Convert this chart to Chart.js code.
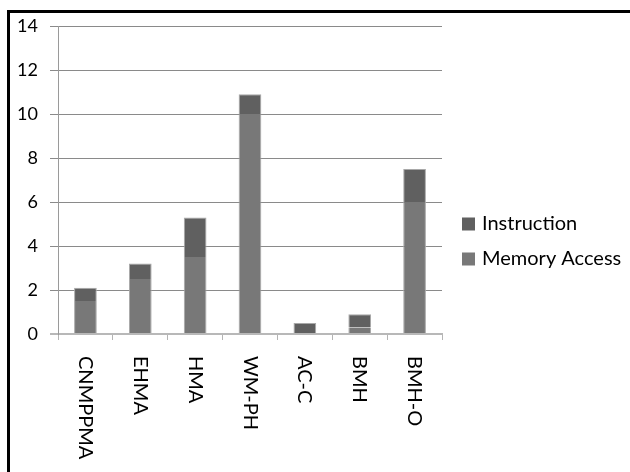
<!DOCTYPE html>
<html>
<head>
<meta charset="utf-8">
<script src="https://cdn.jsdelivr.net/npm/chart.js@4/dist/chart.umd.min.js"></script>
<style>
  html, body { margin: 0; padding: 0; background: #fff; overflow: hidden; }
  #wrap { position: relative; width: 630px; height: 472px; }
  #frame { position: absolute; left: 7px; top: 10px; width: 700px; height: 520px;
           border: 3px solid #000; pointer-events: none; }
  canvas { position: absolute; left: 0; top: 0; }
</style>
</head>
<body>
<div id="wrap">
  <div id="frame"></div>
  <canvas id="c" width="630" height="472"></canvas>
</div>
<script>
// Per-algorithm cost, split into memory accesses and instructions
const categories = ['CNMPPMA', 'EHMA', 'HMA', 'WM-PH', 'AC-C', 'BMH', 'BMH-O'];
const memoryAccess = [1.5, 2.5, 3.5, 10.0, 0.0, 0.3, 6.0];
const instruction  = [0.6, 0.7, 1.8, 0.9, 0.5, 0.6, 1.5];
const yTicks = [0, 2, 4, 6, 8, 10, 12, 14];

const FONT = 'Lato, "Open Sans", sans-serif';

// Vertical category labels, reading top to bottom
const verticalLabels = {
  id: 'verticalLabels',
  afterDraw(chart) {
    const ctx = chart.ctx;
    const xs = chart.scales.x;
    ctx.save();
    ctx.fillStyle = '#000';
    ctx.font = '20px ' + FONT;
    ctx.textAlign = 'left';
    ctx.textBaseline = 'middle';
    chart.data.labels.forEach((lab, i) => {
      const x = xs.getPixelForValue(i);
      ctx.save();
      ctx.translate(x, xs.top + 22);
      ctx.rotate(Math.PI / 2);
      ctx.fillText(lab, 0, 0);
      ctx.restore();
    });
    ctx.restore();
  }
};

// Legend at the right, top stack segment listed first
const sideLegend = {
  id: 'sideLegend',
  afterDraw(chart) {
    const ctx = chart.ctx;
    const items = chart.data.datasets.slice().reverse();
    const x0 = 462, y0 = 224, gap = 35, box = 13;
    ctx.save();
    ctx.font = '20px ' + FONT;
    ctx.textBaseline = 'middle';
    ctx.textAlign = 'left';
    items.forEach((ds, k) => {
      const y = y0 + k * gap;
      ctx.fillStyle = ds.backgroundColor;
      ctx.fillRect(x0, y - box / 2, box, box);
      ctx.fillStyle = '#000';
      ctx.fillText(ds.label, x0 + 20, y);
    });
    ctx.restore();
  }
};

new Chart(document.getElementById('c'), {
  type: 'bar',
  data: {
    labels: categories,
    datasets: [
      {
        label: 'Memory Access',
        data: memoryAccess,
        backgroundColor: '#787878',
        borderColor: '#a8a8a8',
        borderWidth: { left: 1, right: 1, top: 0, bottom: 0 },
        borderSkipped: false
      },
      {
        label: 'Instruction',
        data: instruction,
        backgroundColor: '#606060',
        borderColor: '#a8a8a8',
        borderWidth: { left: 1, right: 1, top: 1, bottom: 0 },
        borderSkipped: false
      }
    ]
  },
  options: {
    responsive: false,
    animation: false,
    devicePixelRatio: 1,
    layout: { padding: { top: 26, right: 188, bottom: 0, left: 0 } },
    plugins: { legend: { display: false }, tooltip: { enabled: false } },
    datasets: { bar: { categoryPercentage: 1.0, barPercentage: 0.414 } },
    scales: {
      x: {
        stacked: true,
        grid: {
          offset: true,
          drawOnChartArea: false,
          drawTicks: true,
          tickLength: 6,
          color: '#b4b4b4',
          lineWidth: 1
        },
        border: { display: true, color: '#b8b8b8', width: 2 },
        ticks: { display: false },
        afterFit(scale) { scale.height = 138; }
      },
      y: {
        stacked: true,
        min: 0,
        max: 14,
        afterBuildTicks(scale) { scale.ticks = yTicks.map(v => ({ value: v })); },
        grid: {
          color: ctx => (ctx.tick && ctx.tick.value === 0) ? '#b8b8b8' : '#8a8a8a',
          lineWidth: ctx => (ctx.tick && ctx.tick.value === 0) ? 2 : 1,
          tickLength: 8
        },
        border: { display: true, color: '#9a9a9a', width: 1 },
        ticks: {
          color: '#000',
          font: { family: FONT, size: 18 },
          padding: 12
        },
        afterFit(scale) { scale.width = 58; }
      }
    }
  },
  plugins: [verticalLabels, sideLegend]
});
</script>
</body>
</html>
